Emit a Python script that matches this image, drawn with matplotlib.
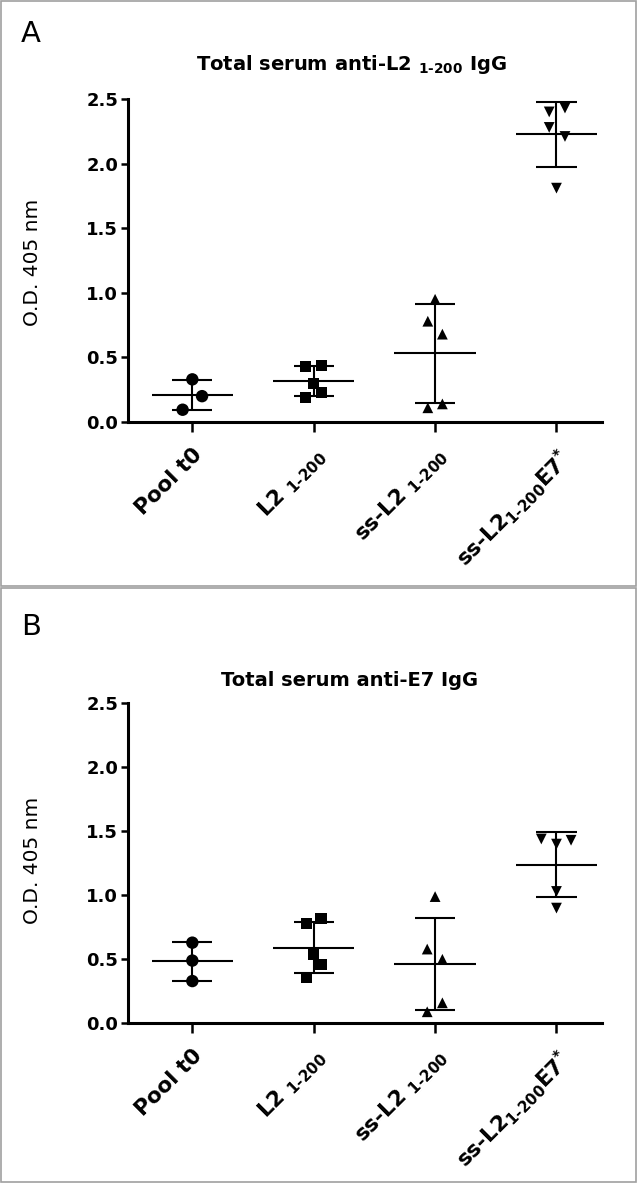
import numpy as np
import matplotlib
matplotlib.use("Agg")
import matplotlib.pyplot as plt
from matplotlib.patches import Rectangle

plt.rcParams['font.family'] = ['DejaVu Sans']
plt.rcParams['mathtext.fontset'] = 'dejavusans'

# ---------------- data ----------------
TICK_LABELS = ["Pool t0",
               "L2 $_{\\mathregular{1\u2010200}}$",
               "ss-L2 $_{\\mathregular{1\u2010200}}$",
               "ss-L2$_{\\mathregular{1\u2010200}}$E7$^{\\mathregular{*}}$"]

TITLE_A = "Total serum anti-L2 $_{\\mathregular{1\u2010200}}$ IgG"
TITLE_B = "Total serum anti-E7 IgG"
Y_LABEL = "O.D. 405 nm"
Y_TICKS = [0.0, 0.5, 1.0, 1.5, 2.0, 2.5]

A_POOL = [0.33, 0.20, 0.095]
A_L2 = [0.43, 0.44, 0.30, 0.23, 0.19]
A_SSL2 = [0.95, 0.78, 0.68, 0.11, 0.14]
A_E7 = [2.40, 2.43, 2.28, 2.21, 1.81]

B_POOL = [0.63, 0.49, 0.33]
B_L2 = [0.78, 0.82, 0.54, 0.46, 0.36]
B_SSL2 = [0.99, 0.58, 0.50, 0.16, 0.09]
B_E7 = [1.44, 1.40, 1.43, 1.03, 0.90]

# ---------------- layout ----------------
JIT_A = [[0, 0.08, -0.08], [-0.065, 0.065, 0, 0.065, -0.065],
         [0, -0.06, 0.06, -0.06, 0.06], [-0.06, 0.07, -0.06, 0.07, 0]]
JIT_B = [[0, 0, 0], [-0.06, 0.06, 0, 0.06, -0.06],
         [0, -0.065, 0.06, 0.06, -0.065], [-0.125, 0, 0.12, 0, 0]]
MARKERS = ['o', 's', '^', 'v']
MSIZE = [80, 65, 60, 60]

W, H = 637, 1183
fig = plt.figure(figsize=(W / 100, H / 100), dpi=100)

# panel borders
for y0, y1 in [(1, 586), (588, 1182)]:
    fig.patches.append(Rectangle((0.8 / W, 1 - y1 / H), (W - 1.6) / W, (y1 - y0) / H,
                                 transform=fig.transFigure, fill=False,
                                 edgecolor='#a0a0a0', linewidth=1.2))


def draw_panel(ax, groups, jit):
    for i, vals in enumerate(groups):
        vals = np.asarray(vals)
        m = vals.mean()
        s = vals.std(ddof=1)
        ax.hlines(m, i - 0.335, i + 0.335, color='black', lw=1.5, zorder=2)
        ax.vlines(i, m - s, m + s, color='black', lw=1.5, zorder=2)
        ax.hlines([m - s, m + s], i - 0.166, i + 0.166, color='black', lw=1.5, zorder=2)
        ax.scatter(np.full(len(vals), i) + np.asarray(jit[i]), vals, marker=MARKERS[i],
                   s=MSIZE[i], color='black', edgecolors='none', zorder=3, clip_on=False)
    ax.set_xlim(-0.53, 3.375)
    ax.set_ylim(0, 2.5)
    for sp in ['top', 'right']:
        ax.spines[sp].set_visible(False)
    for sp in ['left', 'bottom']:
        ax.spines[sp].set_linewidth(2.2)
    ax.set_yticks(Y_TICKS)
    ax.set_yticklabels([f"{t:.1f}" for t in Y_TICKS], fontsize=13, fontweight='bold')
    ax.tick_params(axis='y', length=5, width=1.8, pad=2)
    ax.set_xticks(range(len(TICK_LABELS)))
    ax.set_xticklabels(TICK_LABELS, rotation=45, ha='right', va='top',
                       rotation_mode='anchor', fontsize=15.5, fontweight='bold')
    ax.tick_params(axis='x', length=7, width=1.8, pad=9)


axA = fig.add_axes([128 / W, 1 - 422 / H, (602 - 128) / W, 323 / H])
draw_panel(axA, [A_POOL, A_L2, A_SSL2, A_E7], JIT_A)
axB = fig.add_axes([128 / W, 1 - 1023.3 / H, (602 - 128) / W, 320 / H])
draw_panel(axB, [B_POOL, B_L2, B_SSL2, B_E7], JIT_B)

fig.text(31 / W, 1 - 34 / H, "A", fontsize=21, ha='center', va='center')
fig.text(31 / W, 1 - 627 / H, "B", fontsize=21, ha='center', va='center')
fig.text(352 / W, 1 - 65 / H, TITLE_A, fontsize=14, fontweight='bold', ha='center', va='center')
fig.text(350 / W, 1 - 680 / H, TITLE_B, fontsize=14, fontweight='bold', ha='center', va='center')
fig.text(32 / W, 1 - 262 / H, Y_LABEL, fontsize=14.5, rotation=90, ha='center', va='center')
fig.text(32 / W, 1 - 860 / H, Y_LABEL, fontsize=14.5, rotation=90, ha='center', va='center')

fig.savefig("out.png", dpi=100)
